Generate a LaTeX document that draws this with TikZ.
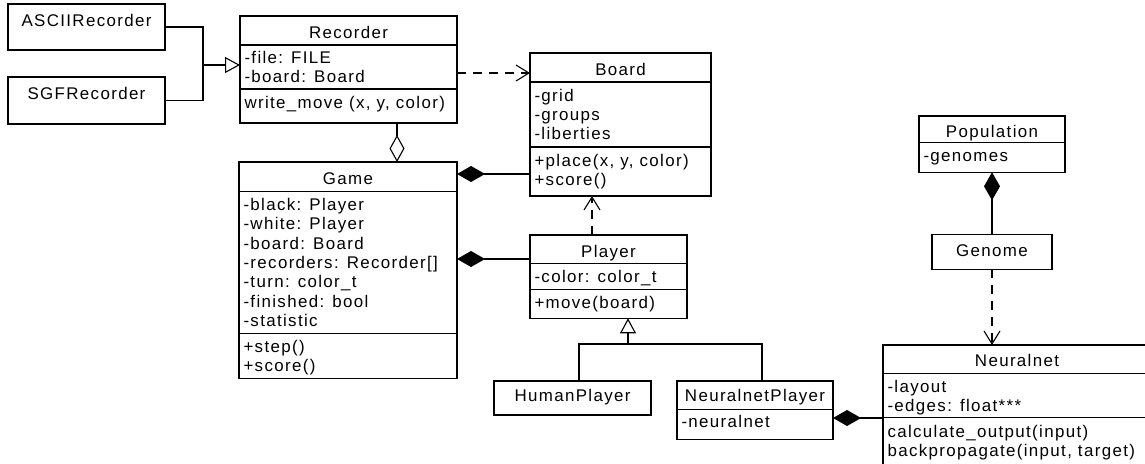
\documentclass[tikz,border=0pt]{standalone}
\usepackage{fontspec}
\setmainfont{Liberation Sans}[LetterSpace=8.0]
\usetikzlibrary{arrows.meta}
\newcommand{\umlfs}{\fontsize{16.9}{19.3}\selectfont}
\begin{document}
\begin{tikzpicture}[x=1pt,y=-1pt, line width=1.1pt,
  umlbox/.style={draw, rectangle, inner sep=0pt, outer sep=0pt},
  txt/.style={inner sep=0pt, outer sep=0pt, anchor=base west, font=\umlfs},
  ttl/.style={inner sep=0pt, outer sep=0pt, anchor=base, font=\umlfs},
  dep/.style={dash pattern=on 9pt off 7pt, -{Straight Barb[length=13pt,width=16pt]}},
  gen/.style={-{Triangle[open,length=15pt,width=16pt]}},
  comp/.style={{Diamond[length=28pt,width=16pt]}-},
  aggr/.style={{Diamond[open,length=27pt,width=15pt]}-}]
\useasboundingbox (0,0) rectangle (1145,463);
\clip (0,0) rectangle (1145,463);

% boxes
\node[umlbox, minimum width=157pt, minimum height=46pt] (ascii) at (86.5,27) {};
\node[umlbox, minimum width=157pt, minimum height=47pt] (sgf) at (86.5,100.5) {};
\node[umlbox, minimum width=217pt, minimum height=107pt] (recorder) at (348.5,69.5) {};
\node[umlbox, minimum width=181pt, minimum height=143pt] (board) at (620.5,124.5) {};
\node[umlbox, minimum width=218pt, minimum height=216.7pt] (game) at (348,270.35) {};
\node[umlbox, minimum width=157pt, minimum height=83.3pt] (player) at (608.5,276.65) {};
\node[umlbox, minimum width=157pt, minimum height=34pt] (human) at (572.5,398) {};
\node[umlbox, minimum width=156pt, minimum height=58.3pt] (nplayer) at (755,410.15) {};
\node[umlbox, minimum width=268pt, minimum height=135pt] (neural) at (1017,412.5) {};
\node[umlbox, minimum width=146pt, minimum height=56.3pt] (pop) at (992,144.15) {};
\node[umlbox, minimum width=120pt, minimum height=35pt] (genome) at (992,251.8) {};

% separators
\foreach \b/\y in {recorder/45, recorder/89, board/82, board/147, game/191.7, game/333.3,
  player/263.3, player/289.3, nplayer/409.3, neural/373.7, neural/417.7, pop/142.7}
  \draw (\b.west |- 0,\y) -- (\b.east |- 0,\y);

% texts
\node[ttl] (tascii) at (86.5,26) {ASCIIRecorder};
\node[ttl] (tsgf) at (86.5,99.5) {SGFRecorder};

\node[ttl] (trec) at (348.5,38) {Recorder};
\node[txt] (rec1) at (244.5,63) {-file: FILE};
\node[txt] (rec2) at (244.5,82.5) {-board: Board};
\node[txt] (rec3) at (244.5,108) {write\_move (x, y, color)};

\node[ttl] (tboard) at (620.5,75) {Board};
\node[txt] (b1) at (534.5,101) {-grid};
\node[txt] (b2) at (534.5,120.3) {-groups};
\node[txt] (b3) at (534.5,139.6) {-liberties};
\node[txt] (b4) at (534.5,166) {+place(x, y, color)};
\node[txt] (b5) at (534.5,185.3) {+score()};

\node[ttl] (tgame) at (348,184) {Game};
\node[txt] (g1) at (243.5,210.5) {-black: Player};
\node[txt] (g2) at (243.5,229.8) {-white: Player};
\node[txt] (g3) at (243.5,249.1) {-board: Board};
\node[txt] (g4) at (243.5,268.4) {-recorders: Recorder[]};
\node[txt] (g5) at (243.5,287.7) {-turn: color\_t};
\node[txt] (g6) at (243.5,307) {-finished: bool};
\node[txt] (g7) at (243.5,326.3) {-statistic};
\node[txt] (g8) at (243.5,352) {+step()};
\node[txt] (g9) at (243.5,371.3) {+score()};

\node[ttl] (tplayer) at (608.5,257) {Player};
\node[txt] (p1) at (534.5,282.3) {-color: color\_t};
\node[txt] (p2) at (534.5,308.3) {+move(board)};

\node[ttl] (thuman) at (572.5,401.5) {HumanPlayer};
\node[ttl] (tnplayer) at (755,401.5) {NeuralnetPlayer};
\node[txt] (np1) at (681.5,427.3) {-neuralnet};

\node[ttl] (tneural) at (1017,366.7) {Neuralnet};
\node[txt] (n1) at (887.5,392.5) {-layout};
\node[txt] (n2) at (887.5,411.8) {-edges: float***};
\node[txt] (n3) at (887.5,437) {calculate\_output(input)};
\node[txt] (n4) at (887.5,456.3) {backpropagate(input, target)};

\node[ttl] (tpop) at (992,137) {Population};
\node[txt] (pp1) at (923.5,161.7) {-genomes};
\node[ttl] (tgenome) at (992,256.5) {Genome};

% helper coordinates
\coordinate (jr) at (203,65);
\coordinate (dy) at (0,73);
\coordinate (ax) at (397,0);
\coordinate (c1) at (0,174);
\coordinate (c2) at (0,259);
\coordinate (dx) at (592,0);
\coordinate (gj) at (628,344);
\coordinate (hx) at (579,0);
\coordinate (nx) at (762,0);
\coordinate (c3) at (0,418);

% connectors
\draw (ascii.east) -| (jr) |- (sgf.east);
\draw[gen] (jr) -- (jr -| recorder.west);
\draw[dep] (recorder.east |- dy) -- (board.west |- dy);
\draw[aggr] (game.north -| ax) -- (recorder.south -| ax);
\draw[comp] (game.east |- c1) -- (board.west |- c1);
\draw[comp] (game.east |- c2) -- (player.west |- c2);
\draw[dep] (player.north -| dx) -- (board.south -| dx);
\draw[gen] (gj) -- (player.south -| gj);
\draw (human.north -| hx) |- (gj) -| (nplayer.north -| nx);
\draw[comp] (nplayer.east |- c3) -- (neural.west |- c3);
\draw[comp] (pop.south) -- (genome.north);
\draw[dep] (genome.south) -- (neural.north -| genome.south);
\end{tikzpicture}
\end{document}
